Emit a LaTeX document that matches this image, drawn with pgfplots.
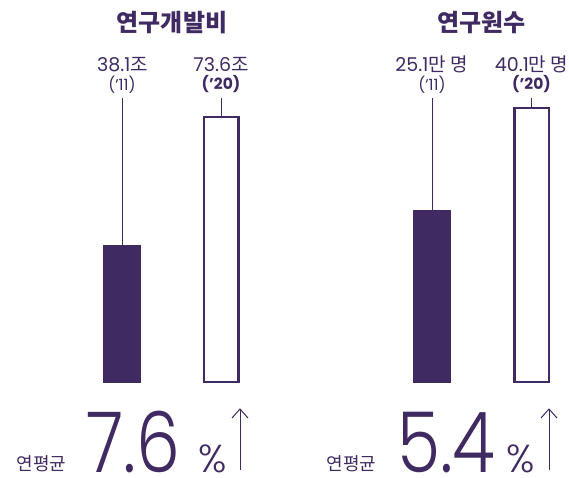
\documentclass[border=0pt]{standalone}
\usepackage{fontspec}
\usepackage{pgfplots}
\pgfplotsset{compat=1.18}
\setmainfont{Poppins}
\newfontfamily\kr{Noto Sans CJK KR}
\newfontfamily\popl{Poppins Light}
\definecolor{pp}{HTML}{3F2A62}
\newcommand{\fs}[1]{\fontsize{#1}{#1}\selectfont}
\begin{document}
\begin{tikzpicture}[x=1pt,y=1pt]
\path[use as bounding box] (0,0) rectangle (569,477);
% ---- left: R&D expenditure
\begin{axis}[at={(72.5pt,95pt)}, anchor=south west, scale only axis,
  width=198pt, height=288pt, xmin=-0.5, xmax=1.5, ymin=0, ymax=80,
  hide axis, clip=false, ybar, bar shift=0pt]
\addplot[fill=pp, draw=pp, bar width=37pt] coordinates {(0,38.1)};
\addplot[fill=white, draw=pp, line width=2.5pt, bar width=34.5pt] coordinates {(1,73.6)};
\coordinate (LA) at (axis cs:0,38.1);
\coordinate (LB) at (axis cs:1,73.6);
\end{axis}
% ---- right: researchers
\begin{axis}[at={(382.25pt,95pt)}, anchor=south west, scale only axis,
  width=199pt, height=287pt, xmin=-0.5, xmax=1.5, ymin=0, ymax=42,
  hide axis, clip=false, ybar, bar shift=0pt]
\addplot[fill=pp, draw=pp, bar width=37pt] coordinates {(0,25.1)};
\addplot[fill=white, draw=pp, line width=2.5pt, bar width=34.5pt] coordinates {(1,40.1)};
\coordinate (RA) at (axis cs:0,25.1);
\coordinate (RB) at (axis cs:1,40.1);
\end{axis}
% leader lines
\draw[pp, line width=1pt] (LA) -- (LA |- 0,379);
\draw[pp, line width=1pt] (LB) -- (LB |- 0,379);
\draw[pp, line width=1pt] (RA) -- (RA |- 0,379);
\draw[pp, line width=1pt] (RB) -- (RB |- 0,379);
% titles
\node[pp, font=\kr\bfseries\fs{24}] at (172,454) {연구개발비};
\node[pp, font=\kr\bfseries\fs{24}] at (481.5,454) {연구원수};
% value labels
\node[pp, font=\fs{19}] at (122.5,412.5) {38.1{\kr 조}};
\node[pp, font=\fs{15.5}] at (122,392.5) {('11)};
\node[pp, font=\fs{19}] at (221,412.5) {73.6{\kr 조}};
\node[pp, font=\bfseries\fs{15.5}] at (221,392.5) {('20)};
\node[pp, font=\fs{19}] at (431.5,412.5) {25.1{\kr 만 명}};
\node[pp, font=\fs{15.5}] at (432,392.5) {('11)};
\node[pp, font=\fs{19}] at (531.5,412.5) {40.1{\kr 만 명}};
\node[pp, font=\bfseries\fs{15.5}] at (531.5,392.5) {('20)};
% bottom annotations
\node[pp, font=\kr\fs{18}, anchor=base] at (41.5,7) {연평균};
\node[pp, font=\popl\fs{84}, anchor=base west, inner sep=0pt] at (86,5) {\scalebox{0.83}[1]{7.6}};
\node[pp, font=\popl\fs{39}, anchor=base west, inner sep=0pt] at (198,5) {\%};
\draw[pp, line width=1pt] (240,7) -- (240,68);
\draw[pp, line width=1pt] (232,59) -- (240,68) -- (248,59);
\node[pp, font=\kr\fs{18}, anchor=base] at (351.5,7) {연평균};
\node[pp, font=\popl\fs{84}, anchor=base west, inner sep=0pt] at (397,5) {\scalebox{0.83}[1]{5.4}};
\node[pp, font=\popl\fs{39}, anchor=base west, inner sep=0pt] at (506,5) {\%};
\draw[pp, line width=1pt] (549,7) -- (549,68);
\draw[pp, line width=1pt] (541,59) -- (549,68) -- (557,59);
\end{tikzpicture}
\end{document}
